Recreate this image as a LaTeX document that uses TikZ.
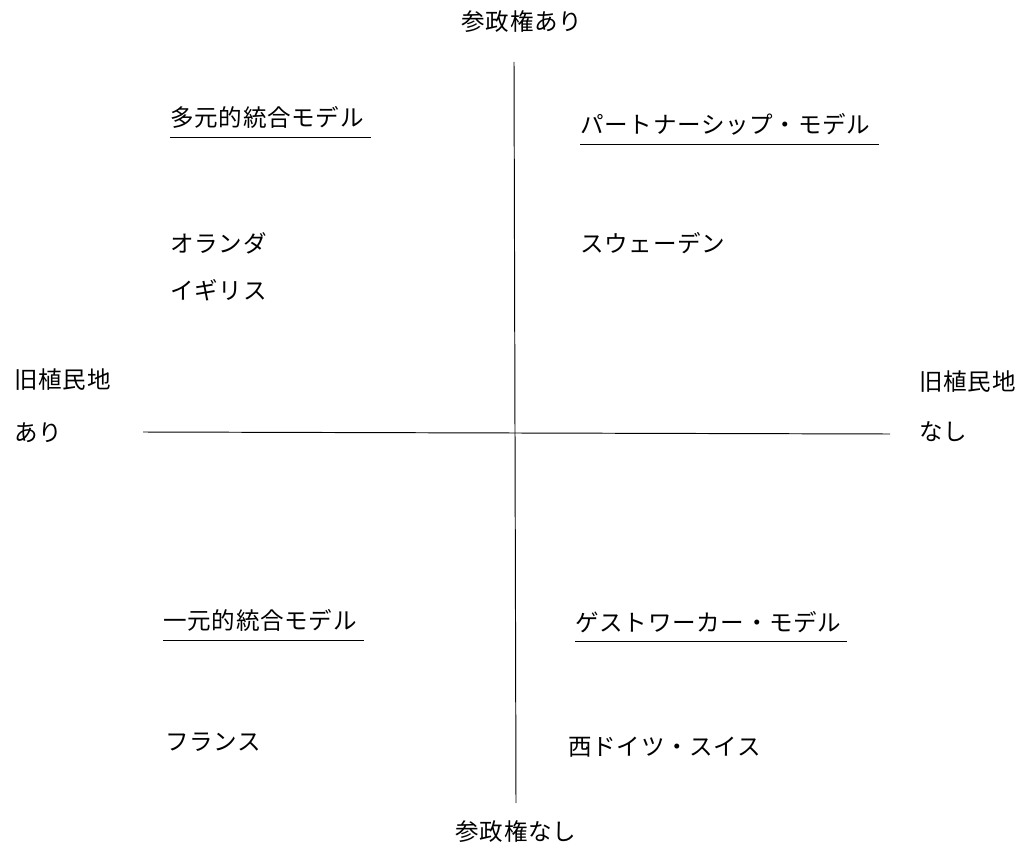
\documentclass[tikz,border=0pt]{standalone}
\usepackage{fontspec}
\newfontfamily\jpfont[LetterSpace=3]{Noto Sans CJK JP}
\usetikzlibrary{positioning}

\begin{document}
\begin{tikzpicture}[x=0.02cm, y=-0.02cm,
        label/.style={font=\jpfont\fontsize{13.4pt}{16pt}\selectfont, inner sep=0pt, anchor=west},
        axislabel/.style={font=\jpfont\fontsize{13.4pt}{16pt}\selectfont, inner sep=0pt},
        axis/.style={line width=0.55pt},
        uline/.style={line width=0.6pt}]
        \useasboundingbox (0,0) rectangle (1028,855);

            % Axes
            \coordinate (top) at (514,62);
            \coordinate (bottom) at (516,803);
            \coordinate (left) at (143,432);
            \coordinate (right) at (890,434);
            \draw [axis] (top) -- (bottom);
            \draw [axis] (left) -- (right);

            % Axis labels
            \node [axislabel] (vote) at (522,22) {参政権あり};
            \node [axislabel] (novote) at (516,832) {参政権なし};
            \node [label] (colony) at (14,380) {旧植民地};
            \node [label, below=18pt of colony.south west, anchor=north west] (colonyyes) {あり};
            \node [label] (colony2) at (919,382) {旧植民地};
            \node [label, below=16pt of colony2.south west, anchor=north west] (colonyno) {なし};

            % Models
            \node [label] (plural) at (170,117) {多元的統合モデル};
            \node [label] (partner) at (580,124) {パートナーシップ・モデル};
            \node [label] (unitary) at (163,620) {一元的統合モデル};
            \node [label] (guest) at (575,622) {ゲストワーカー・モデル};

            % Underlines
            \draw [uline] ([yshift=-5pt]plural.south west) -- ([yshift=-5pt,xshift=4pt]plural.south east);
            \draw [uline] ([yshift=-5pt]partner.south west) -- ([yshift=-5pt,xshift=5pt]partner.south east);
            \draw [uline] ([yshift=-5pt]unitary.south west) -- ([yshift=-5pt,xshift=4pt]unitary.south east);
            \draw [uline] ([yshift=-5pt]guest.south west) -- ([yshift=-5pt,xshift=3pt]guest.south east);

            % Countries
            \node [label] (nl) at (170,243) {オランダ};
            \node [label] (uk) at (170,290) {イギリス};
            \node [label] (se) at (580,243) {スウェーデン};
            \node [label] (fr) at (165,742) {フランス};
            \node [label] (de) at (568,747) {西ドイツ・スイス};

        \end{tikzpicture}
\end{document}
